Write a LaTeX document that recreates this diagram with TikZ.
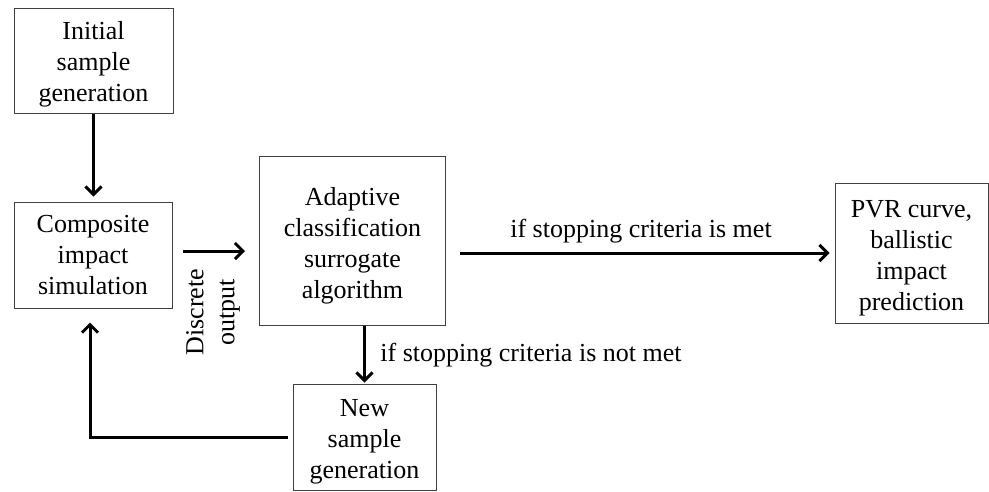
\documentclass[tikz,border=0pt]{standalone}
\usepackage{fontspec}
\setmainfont{Liberation Serif}
\usetikzlibrary{arrows.meta,calc}
% centred block of lines, moved down by #1 without changing its size
\newcommand\blocklines[2]{\raisebox{-#1}[\height][\depth]{\begin{tabular}{@{}c@{}}#2\end{tabular}}}
\begin{document}
\begin{tikzpicture}[x=1pt,y=-1pt,
  box/.style={draw=black!75,line width=1pt,inner sep=0pt,
    font=\fontsize{26}{31}\selectfont},
  lbl/.style={align=center,inner sep=0pt,font=\fontsize{26}{31}\selectfont},
  arr/.style={line width=3pt,-{Straight Barb[length=8pt,width=16pt]}}]
\useasboundingbox (0,0) rectangle (989,491);

% process blocks
\node[box,minimum width=159pt,minimum height=105pt] (init) at (93.5,60.5)
  {\blocklines{3.3pt}{Initial\\sample\\generation}};
\node[box,minimum width=158pt,minimum height=106pt] (comp) at (93,255)
  {\blocklines{1.8pt}{Composite\\impact\\simulation}};
\node[box,minimum width=186pt,minimum height=169pt] (adapt) at (352.5,240.5)
  {\blocklines{4.8pt}{Adaptive\\classification\\surrogate\\algorithm}};
\node[box,minimum width=143pt,minimum height=106pt] (new) at (364.5,437)
  {\blocklines{4pt}{New\\sample\\generation}};
\node[box,minimum width=153pt,minimum height=140pt] (pvr) at (911.5,253)
  {\blocklines{5pt}{PVR curve,\\ballistic\\impact\\prediction}};

% connectors
\draw[arr,shorten >=5pt] (init.south) -- (init.south |- comp.north);

\coordinate (dstart) at ([yshift=4pt]comp.east);
\draw[arr,shorten <=10pt,shorten >=14pt] (dstart) -- (dstart -| adapt.west);

\draw[arr,shorten <=14pt,shorten >=5pt] (pvr.west -| adapt.east) -- (pvr.west);

\draw[arr,shorten >=1pt] (new.north |- adapt.south) -- (new.north);

\draw[arr,shorten <=5pt,shorten >=14pt] (new.west) -| ([xshift=-3pt]comp.south);

% labels
\node[lbl] (met) at (641,231) {if stopping criteria is met};
\node[lbl] (notmet) at (531,355) {if stopping criteria is not met};
\node[lbl,rotate=90] (disc) at (213,312) {Discrete\\output};
\end{tikzpicture}
\end{document}
